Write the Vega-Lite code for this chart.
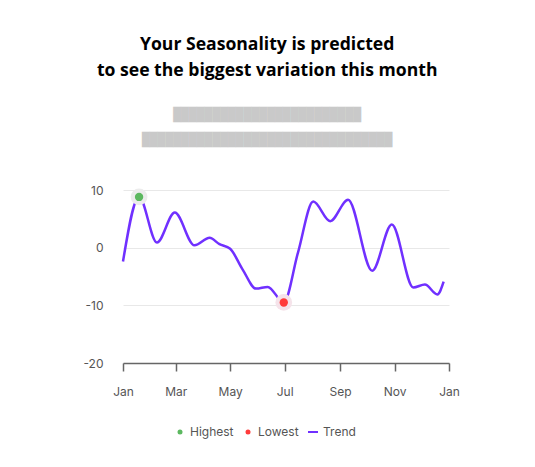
{
  "$schema": "https://vega.github.io/schema/vega-lite/v6.json",
  "width": 326,
  "height": 173,
  "padding": {"left": 82, "top": 36, "right": 10, "bottom": 10},
  "background": "white",
  "title": {
    "text": ["Your Seasonality is predicted", "to see the biggest variation this month"],
    "subtitle": ["████████████████████████", "████████████████████████████████"],
    "anchor": "middle",
    "frame": "bounds",
    "dx": -4,
    "font": "Open Sans",
    "fontSize": 17.6,
    "fontWeight": "bold",
    "color": "#000000",
    "lineHeight": 26,
    "subtitleFont": "DejaVu Sans Mono",
    "subtitleFontSize": 13,
    "subtitleColor": "#c9c9c9",
    "subtitleLineHeight": 25,
    "subtitlePadding": 29,
    "offset": 37
  },
  "datasets": {
    "trend": [
      {"date": "2023-01-01", "value": -2.4},
      {"date": "2023-01-19", "value": 8.8},
      {"date": "2023-02-08", "value": 0.9},
      {"date": "2023-02-28", "value": 6.1},
      {"date": "2023-03-22", "value": 0.4},
      {"date": "2023-04-08", "value": 1.7},
      {"date": "2023-04-19", "value": 0.6},
      {"date": "2023-05-01", "value": -0.2},
      {"date": "2023-05-15", "value": -3.8},
      {"date": "2023-05-30", "value": -7.1},
      {"date": "2023-06-12", "value": -6.8},
      {"date": "2023-06-30", "value": -9.5},
      {"date": "2023-07-16", "value": -0.8},
      {"date": "2023-08-02", "value": 8.0},
      {"date": "2023-08-21", "value": 4.6},
      {"date": "2023-09-10", "value": 8.3},
      {"date": "2023-10-07", "value": -4.0},
      {"date": "2023-10-29", "value": 4.0},
      {"date": "2023-11-22", "value": -6.9},
      {"date": "2023-12-05", "value": -6.4},
      {"date": "2023-12-19", "value": -8.1},
      {"date": "2023-12-26", "value": -5.9}
    ],
    "extremes": [
      {"date": "2023-01-19", "value": 8.8, "series": "Highest"},
      {"date": "2023-06-30", "value": -9.5, "series": "Lowest"}
    ]
  },
  "layer": [
    {
      "data": {"name": "trend"},
      "mark": {"type": "line", "interpolate": "monotone", "color": "#7030ff", "strokeWidth": 2.5},
      "encoding": {
        "x": {
          "field": "date", "type": "temporal",
          "scale": {"domain": ["2023-01-01T00:00:00", "2024-01-01T00:00:00"]},
          "axis": {
            "title": null, "format": "%b",
            "tickCount": {"interval": "month", "step": 2},
            "grid": false, "domainColor": "#666666", "tickColor": "#666666",
            "tickSize": 8, "domainWidth": 1.5, "tickWidth": 1.5,
            "labelColor": "#555555", "labelFontSize": 12, "labelFont": "Inter",
            "labelPadding": 15, "labelFlush": false, "labelBound": false, "labelOverlap": false
          }
        },
        "y": {
          "field": "value", "type": "quantitative",
          "scale": {"domain": [-20, 10], "nice": false},
          "axis": {
            "title": null, "values": [-20, -10, 0, 10],
            "labelExpr": "replace(datum.label, '−', '-')",
            "domain": false, "ticks": false,
            "gridColor": "#e8e8e8", "labelColor": "#555555",
            "labelFontSize": 12, "labelFont": "Inter", "labelPadding": 20
          }
        }
      }
    },
    {
      "data": {"name": "extremes"},
      "mark": {"type": "point", "filled": true, "size": 280, "opacity": 1},
      "encoding": {
        "x": {"field": "date", "type": "temporal"},
        "y": {"field": "value", "type": "quantitative"},
        "fill": {
          "condition": {"test": "datum.series === 'Highest'", "value": "#ececec"},
          "value": "#f5e3ea"
        }
      }
    },
    {
      "data": {"name": "extremes"},
      "mark": {"type": "point", "filled": true, "size": 70, "opacity": 1},
      "encoding": {
        "x": {"field": "date", "type": "temporal"},
        "y": {"field": "value", "type": "quantitative"},
        "color": {
          "field": "series", "type": "nominal",
          "scale": {"domain": ["Highest", "Lowest", "Trend"], "range": ["#5cb860", "#ff3b3b", "#7030ff"]},
          "legend": {
            "title": null, "orient": "none", "direction": "horizontal",
            "legendX": 51, "legendY": 236,
            "symbolSize": 25, "labelFontSize": 12, "labelFont": "Inter",
            "labelColor": "#555555", "columnPadding": 8, "labelOffset": 4
          }
        },
        "shape": {
          "field": "series", "type": "nominal",
          "scale": {"domain": ["Highest", "Lowest", "Trend"], "range": ["circle", "circle", "M-2,-0.4H2V0.4H-2Z"]},
          "legend": {
            "title": null, "orient": "none", "direction": "horizontal",
            "legendX": 51, "legendY": 236,
            "symbolSize": 25, "labelFontSize": 12, "labelFont": "Inter",
            "labelColor": "#555555", "columnPadding": 8, "labelOffset": 4
          }
        }
      }
    }
  ],
  "config": {"view": {"stroke": null}}
}
